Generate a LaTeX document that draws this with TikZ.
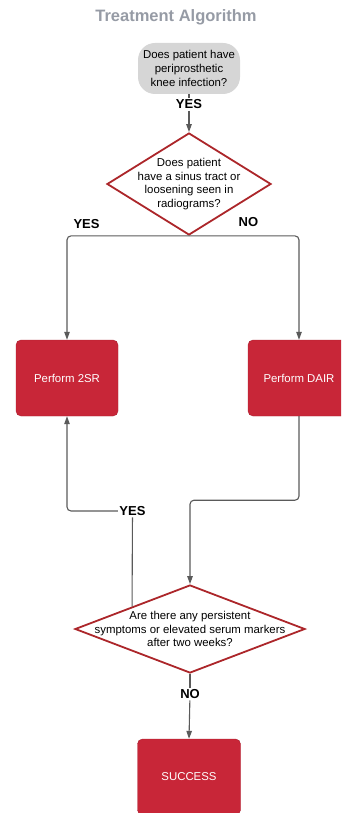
\documentclass[tikz,border=0pt]{standalone}
\usepackage{fontspec}
\setmainfont{Liberation Sans}
\usetikzlibrary{shapes.geometric,arrows.meta}

\definecolor{boxred}{RGB}{200,38,56}
\definecolor{linered}{RGB}{172,38,42}
\definecolor{titlegray}{RGB}{150,155,165}
\definecolor{startgray}{RGB}{214,214,214}
\definecolor{flowgray}{RGB}{90,90,90}

\begin{document}
\begin{tikzpicture}[x=1pt,y=-1pt,
  txt/.style = {font=\fontsize{11.4}{13.6}\selectfont, align=center},
  startbox/.style = {txt, fill=startgray, rounded corners=17pt, minimum width=102pt, minimum height=51pt, inner sep=0pt},
  decision/.style = {diamond, draw=linered, line width=1.8pt, fill=white, inner sep=0pt},
  actbox/.style = {txt, text=white, fill=boxred, draw=boxred!85!black, line width=0.4pt, rounded corners=5pt, minimum width=102pt, minimum height=76pt},
  answer/.style = {font=\fontsize{13}{13}\selectfont\bfseries, inner sep=1.5pt},
  flow/.style = {draw=flowgray, line width=1.1pt, rounded corners=4pt},
  arr/.style = {flow, -{Triangle[width=5.5pt,length=8pt]}}]

\useasboundingbox (0,0) rectangle (341,813);
\clip (0,0) rectangle (341,813);

\coordinate (t) at (176,17);
\coordinate (s) at (189,68.5);
\coordinate (y1) at (189,104.5);
\coordinate (d1) at (189,184);
\coordinate (l) at (67,378);
\coordinate (r) at (299,378);
\coordinate (y2) at (132.5,511);
\coordinate (d2) at (190,629);
\coordinate (n2) at (190,694);
\coordinate (e) at (189,777);

\node[font=\fontsize{16.5}{16.5}\selectfont\bfseries, text=titlegray] (title) at (t) {Treatment Algorithm};

\node[startbox] (infect) at (s) {Does patient have\\periprosthetic\\knee infection?};
\node[answer] (yesa) at (y1) {YES};

\node[decision, minimum width=164pt, minimum height=102pt,
  label={[txt]center:Does patient\\have a sinus tract or\\loosening seen in\\radiograms?}] (sinus) at (d1) {};

\node[actbox] (twosr) at (l) {Perform 2SR};
\node[actbox] (dair) at (r) {Perform DAIR};

\node[answer] (yesb) at (y2) {YES};

\node[decision, minimum width=230pt, minimum height=88pt,
  label={[txt]center:Are there any persistent\\symptoms or elevated serum markers\\after two weeks?}] (persist) at (d2) {};

\node[answer] (noa) at (n2) {NO};
\node[actbox, minimum width=103pt] (success) at (e) {SUCCESS};

% connectors
\draw[flow] (infect) -- (yesa);
\draw[arr] (yesa) -- (sinus.north);
\draw[arr] (sinus.south) -| node[answer, pos=0.42, above=5pt] {YES} (twosr.north);
\draw[arr] (sinus.south) -| node[answer, pos=0.27, above=7pt] {NO} (dair.north);
\draw[arr] (dair.south) -- ++(0,84) -| (persist.north);
\draw[flow] (persist.north west) -- (yesb);
\draw[arr] (yesb) -| (twosr.south);
\draw[flow] (persist.south) -- (noa);
\draw[arr] (noa) -- (success.north);

\end{tikzpicture}
\end{document}
